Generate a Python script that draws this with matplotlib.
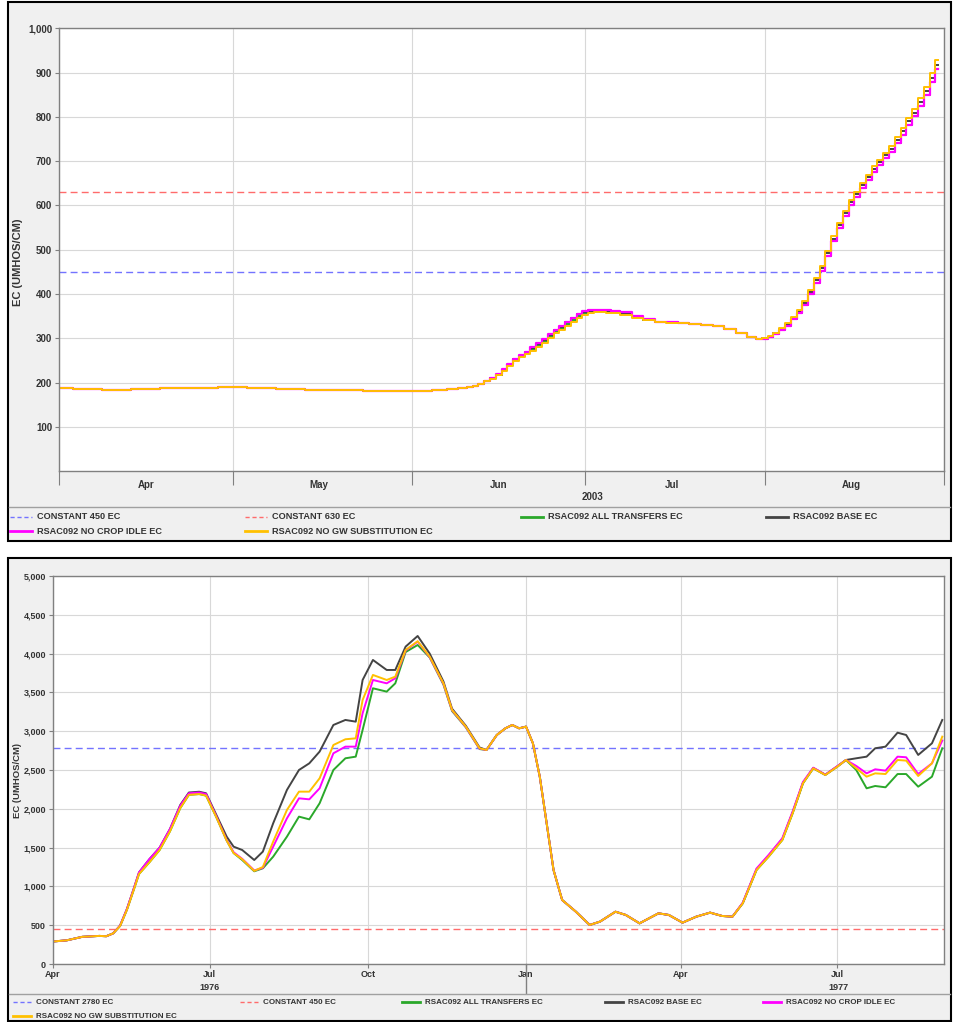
import matplotlib
matplotlib.use("Agg")
import matplotlib.pyplot as plt
import matplotlib.dates as mdates
from matplotlib.lines import Line2D
from matplotlib.patches import Rectangle
from matplotlib.ticker import FuncFormatter, NullFormatter, MultipleLocator
import pandas as pd

plt.rcParams['font.family'] = ['Liberation Sans', 'DejaVu Sans']

W, H = 954, 1022

##########################
# top chart data (2003, days from Apr 1)
##########################
top_days = ([0, 5, 10, 15, 20, 25, 30, 35, 40, 45, 50, 55, 60, 63, 66, 68]
            + list(range(70, 97))          # Jun rise, daily
            + list(range(98, 121, 2))      # Jul, every 2 days
            + list(range(121, 153)))       # Aug rise, daily
top_early = [187, 186, 184, 185, 187, 189, 191, 189, 186, 184, 183, 182, 182, 182, 184, 186]
top_gw = top_early + [189, 190, 193, 197, 203, 209, 217, 227, 238, 250,
                      257, 265, 272, 280, 289, 300, 311, 320, 329, 338,
                      347, 353, 358, 359, 359, 358, 357,
                      353, 347, 341, 337, 335, 334, 332, 330, 327, 321, 311, 303,
                      299,
                      300, 305, 313, 323, 334, 349, 364, 384, 409, 436,
                      463, 498, 530, 561, 588, 612, 631, 651, 669, 688,
                      703, 719, 734, 754, 774, 797, 817, 842, 868, 898, 928]
top_idle = top_early + [189, 190, 193, 197, 204, 211, 219, 230, 242, 254,
                        262, 270, 280, 289, 298, 309, 320, 328, 338, 347,
                        356, 361, 364, 365, 365, 364, 362,
                        359, 350, 343, 338, 336, 334, 332, 330, 327, 321, 311, 303,
                        299,
                        299, 303, 310, 319, 329, 343, 357, 376, 400, 426,
                        452, 487, 519, 550, 577, 601, 620, 640, 658, 676,
                        691, 707, 721, 740, 760, 782, 801, 825, 850, 878, 907]
top_base = top_early + [189, 190, 193, 197, 204, 210, 218, 229, 241, 253,
                        261, 269, 278, 287, 296, 307, 318, 326, 336, 345,
                        354, 359, 362, 363, 363, 362, 360,
                        357, 349, 342, 338, 336, 334, 332, 330, 327, 321, 311, 303,
                        299,
                        300, 304, 312, 321, 332, 346, 361, 380, 405, 431,
                        458, 493, 525, 556, 583, 607, 626, 646, 664, 682,
                        697, 713, 728, 747, 767, 790, 809, 834, 859, 888, 918]
top_all = top_early + [189, 190, 193, 197, 203, 210, 218, 228, 240, 252,
                       260, 268, 277, 285, 294, 305, 316, 324, 333, 342,
                       351, 357, 361, 362, 362, 361, 359,
                       356, 348, 342, 338, 336, 334, 332, 330, 327, 321, 311, 303,
                       299,
                       299, 303, 310, 319, 329, 343, 357, 376, 400, 426,
                       452, 487, 519, 550, 577, 601, 620, 640, 658, 676,
                       691, 707, 721, 740, 760, 782, 801, 825, 850, 878, 907]
top_const = [450, 630]

##########################
# bottom chart data (1976-77, days from Apr 1 1976)
##########################
bot_days = [0, 8, 17, 27, 31, 35, 39, 43, 47, 50,
            56, 62, 68, 74, 79, 85, 89, 95, 101, 105,
            110, 117, 122, 128, 136, 143, 149, 155, 163, 170,
            176, 180, 186, 194, 199, 205, 212, 219, 227, 232,
            240, 248, 252, 258, 263, 267, 271, 275, 279, 283,
            287, 291, 296, 304, 312, 318, 327, 333, 341, 352,
            358, 366, 374, 382, 389, 395, 401, 409, 416, 424,
            430, 436, 442, 449, 456, 461, 467, 473, 478, 484,
            491, 496, 503, 511, 517]
bot_gw = [290, 305, 350, 362, 358, 395, 490, 700, 960, 1160,
          1310, 1470, 1710, 2010, 2180, 2190, 2170, 1890, 1590, 1430,
          1350, 1200, 1250, 1577, 1985, 2221, 2221, 2393, 2822, 2896,
          2908, 3402, 3725, 3660, 3703, 4047, 4160, 3961, 3617, 3274,
          3059, 2780, 2758, 2951, 3037, 3080, 3037, 3059, 2844, 2414,
          1813, 1211, 825, 674, 503, 546, 674, 632, 524, 653,
          632, 533, 610, 662, 619, 610, 782, 1211, 1383, 1598,
          1942, 2328, 2522, 2436, 2543, 2629, 2522, 2414, 2457, 2448,
          2629, 2621, 2423, 2586, 2930]
bot_idle = [290, 305, 350, 362, 358, 395, 495, 710, 975, 1180,
            1350, 1500, 1740, 2040, 2200, 2210, 2190, 1900, 1595, 1440,
            1355, 1205, 1240, 1512, 1877, 2135, 2122, 2264, 2715, 2801,
            2801, 3231, 3660, 3617, 3682, 4040, 4154, 3955, 3610, 3270,
            3055, 2775, 2758, 2951, 3037, 3080, 3037, 3059, 2844, 2414,
            1813, 1211, 825, 674, 503, 546, 674, 632, 524, 653,
            632, 533, 610, 662, 619, 610, 790, 1230, 1405, 1620,
            1965, 2345, 2530, 2440, 2550, 2629, 2552, 2457, 2509, 2492,
            2672, 2664, 2448, 2586, 2880]
bot_base = [290, 305, 350, 362, 358, 395, 495, 710, 975, 1180,
            1350, 1500, 1740, 2050, 2210, 2220, 2200, 1920, 1640, 1512,
            1469, 1340, 1448, 1813, 2243, 2500, 2586, 2737, 3080, 3145,
            3123, 3660, 3918, 3789, 3789, 4090, 4227, 4000, 3640, 3290,
            3070, 2790, 2758, 2951, 3037, 3080, 3037, 3059, 2844, 2414,
            1813, 1211, 825, 674, 503, 546, 674, 632, 524, 653,
            632, 533, 610, 662, 619, 610, 785, 1220, 1395, 1610,
            1955, 2335, 2525, 2440, 2548, 2629, 2651, 2672, 2780, 2801,
            2981, 2951, 2694, 2844, 3145]
bot_all = [290, 305, 350, 362, 358, 395, 490, 700, 960, 1160,
           1310, 1470, 1710, 2010, 2180, 2190, 2170, 1890, 1590, 1430,
           1340, 1195, 1233, 1383, 1641, 1899, 1864, 2071, 2500, 2651,
           2672, 3016, 3553, 3510, 3617, 4020, 4111, 3950, 3600, 3260,
           3050, 2770, 2758, 2951, 3037, 3080, 3037, 3059, 2844, 2414,
           1813, 1211, 825, 674, 503, 546, 674, 632, 524, 653,
           632, 533, 610, 662, 619, 610, 782, 1211, 1383, 1598,
           1942, 2328, 2522, 2436, 2543, 2629, 2500, 2264, 2294, 2277,
           2448, 2448, 2285, 2414, 2780]
bot_const = [2780, 450]

c_blue = '#7373ff'
c_red = '#ff6b6b'
c_green = '#2aa82a'
c_black = '#444444'
c_mag = '#ff00ff'
c_yel = '#ffc000'
txt = '#333333'

top_x = pd.Timestamp('2003-04-01') + pd.to_timedelta(top_days, unit='D')
bot_x = pd.Timestamp('1976-04-01') + pd.to_timedelta(bot_days, unit='D')

fig = plt.figure(figsize=(W / 100, H / 100), dpi=100)
fig.patch.set_facecolor('white')


def fx(px):
    return px / W


def fy(py):
    return 1 - py / H


# panel boxes
for (y0, y1, ysep) in [(2, 541, 507), (558, 1021, 994)]:
    fig.add_artist(Rectangle((fx(8), fy(y1)), fx(943), (y1 - y0) / H, transform=fig.transFigure,
                             facecolor='#f0f0f0', edgecolor='black', lw=1.5, zorder=-5))
    fig.add_artist(Line2D([fx(9), fx(950)], [fy(ysep)] * 2, color='#a0a0a0', lw=1))


def style_axes(ax, fs):
    ax.set_facecolor('white')
    for s in ax.spines.values():
        s.set_color('#808080')
        s.set_linewidth(1)
    ax.grid(True, which='major', color='#d8d8d8', lw=0.8)
    ax.set_axisbelow(True)
    ax.tick_params(axis='y', length=3, color='#808080', labelsize=fs, labelcolor=txt, pad=2)
    for lab in ax.get_yticklabels():
        lab.set_fontweight('bold')


comma = FuncFormatter(lambda v, p: f"{int(v):,}")

##########################
# top chart
##########################
ax1 = fig.add_axes([fx(59), fy(471.3), fx(885), 443.1 / H])
ax1.axhline(top_const[0], color=c_blue, lw=1, ls=(0, (5, 3)))
ax1.axhline(top_const[1], color=c_red, lw=1, ls=(0, (5, 3)))
ax1.plot(top_x, top_all, color=c_green, lw=1.4, drawstyle='steps-mid')
ax1.plot(top_x, top_base, color=c_black, lw=1.4, drawstyle='steps-mid')
ax1.plot(top_x, top_idle, color=c_mag, lw=1.6, drawstyle='steps-mid')
ax1.plot(top_x, top_gw, color=c_yel, lw=1.4, drawstyle='steps-mid')
ax1.set_xlim(pd.Timestamp('2003-04-01'), pd.Timestamp('2003-09-01'))
ax1.set_ylim(0, 1000)
ax1.set_yticks(range(100, 1001, 100))
ax1.yaxis.set_major_formatter(comma)
ax1.xaxis.set_major_locator(mdates.MonthLocator())
ax1.xaxis.set_major_formatter(NullFormatter())
ax1.xaxis.set_minor_locator(mdates.MonthLocator(bymonthday=16))
ax1.xaxis.set_minor_formatter(mdates.DateFormatter('%b'))
ax1.tick_params(axis='x', which='major', length=10, color='#808080')
ax1.tick_params(axis='x', which='minor', length=0, labelsize=7, labelcolor=txt, pad=6)
style_axes(ax1, 7)
for lab in ax1.get_xticklabels(minor=True):
    lab.set_fontweight('bold')
fig.text(fx(593), fy(497), '2003', ha='center', va='center', fontsize=7, fontweight='bold', color=txt)
fig.text(fx(18), fy(262), 'EC (UMHOS/CM)', rotation=90, ha='center', va='center',
         fontsize=8, fontweight='bold', color=txt)

##########################
# bottom chart
##########################
ax2 = fig.add_axes([fx(53), fy(964), fx(891), 388 / H])
ax2.axhline(bot_const[0], color=c_blue, lw=1, ls=(0, (5, 3)))
ax2.axhline(bot_const[1], color=c_red, lw=1, ls=(0, (5, 3)))
ax2.plot(bot_x, bot_all, color=c_green, lw=1.4)
ax2.plot(bot_x, bot_base, color=c_black, lw=1.4)
ax2.plot(bot_x, bot_idle, color=c_mag, lw=1.4)
ax2.plot(bot_x, bot_gw, color=c_yel, lw=1.4)
ax2.set_xlim(pd.Timestamp('1976-04-01'), pd.Timestamp('1977-09-01'))
ax2.set_ylim(0, 5000)
ax2.yaxis.set_major_locator(MultipleLocator(500))
ax2.yaxis.set_major_formatter(comma)
ax2.xaxis.set_major_locator(mdates.MonthLocator(bymonth=[1, 4, 7, 10]))
ax2.xaxis.set_major_formatter(mdates.DateFormatter('%b'))
ax2.tick_params(axis='x', length=3, color='#808080', labelsize=6.5, labelcolor=txt, pad=1)
style_axes(ax2, 6.5)
for lab in ax2.get_xticklabels():
    lab.set_fontweight('bold')
ax2.axvline(pd.Timestamp('1977-01-01'), ymin=-0.075, ymax=0, color='#808080', lw=1, clip_on=False)
for yr_x, yr in [(210, '1976'), (838, '1977')]:
    fig.text(fx(yr_x), fy(987), yr, ha='center', va='center', fontsize=6.5, fontweight='bold', color=txt)
fig.text(fx(18), fy(780), 'EC (UMHOS/CM)', rotation=90, ha='center', va='center',
         fontsize=6.8, fontweight='bold', color=txt)


##########################
# legends
##########################
def legend_item(x0, y, label, color, dashed, fs, ln=22):
    if dashed:
        fig.add_artist(Line2D([fx(x0), fx(x0 + ln)], [fy(y)] * 2, color=color, lw=1, ls=(0, (3, 2))))
    else:
        fig.add_artist(Line2D([fx(x0), fx(x0 + ln)], [fy(y)] * 2, color=color, lw=2))
    fig.text(fx(x0 + ln + 5), fy(y), label, ha='left', va='center', fontsize=fs,
             fontweight='bold', color=txt)


top_leg = [(10, 516.6, 'CONSTANT 450 EC', c_blue, True),
           (245, 516.6, 'CONSTANT 630 EC', c_red, True),
           (521, 516.6, 'RSAC092 ALL TRANSFERS EC', c_green, False),
           (766, 516.6, 'RSAC092 BASE EC', c_black, False),
           (10, 531, 'RSAC092 NO CROP IDLE EC', c_mag, False),
           (245, 531, 'RSAC092 NO GW SUBSTITUTION EC', c_yel, False)]
for x0, y, lab, col, d in top_leg:
    legend_item(x0, y, lab, col, d, 6.6)

bot_leg = [(13, 1002, 'CONSTANT 2780 EC', c_blue, True),
           (240, 1002, 'CONSTANT 450 EC', c_red, True),
           (402, 1002, 'RSAC092 ALL TRANSFERS EC', c_green, False),
           (605, 1002, 'RSAC092 BASE EC', c_black, False),
           (763, 1002, 'RSAC092 NO CROP IDLE EC', c_mag, False),
           (13, 1016, 'RSAC092 NO GW SUBSTITUTION EC', c_yel, False)]
for x0, y, lab, col, d in bot_leg:
    legend_item(x0, y, lab, col, d, 5.8, ln=18)

fig.savefig('out.png', dpi=100)
